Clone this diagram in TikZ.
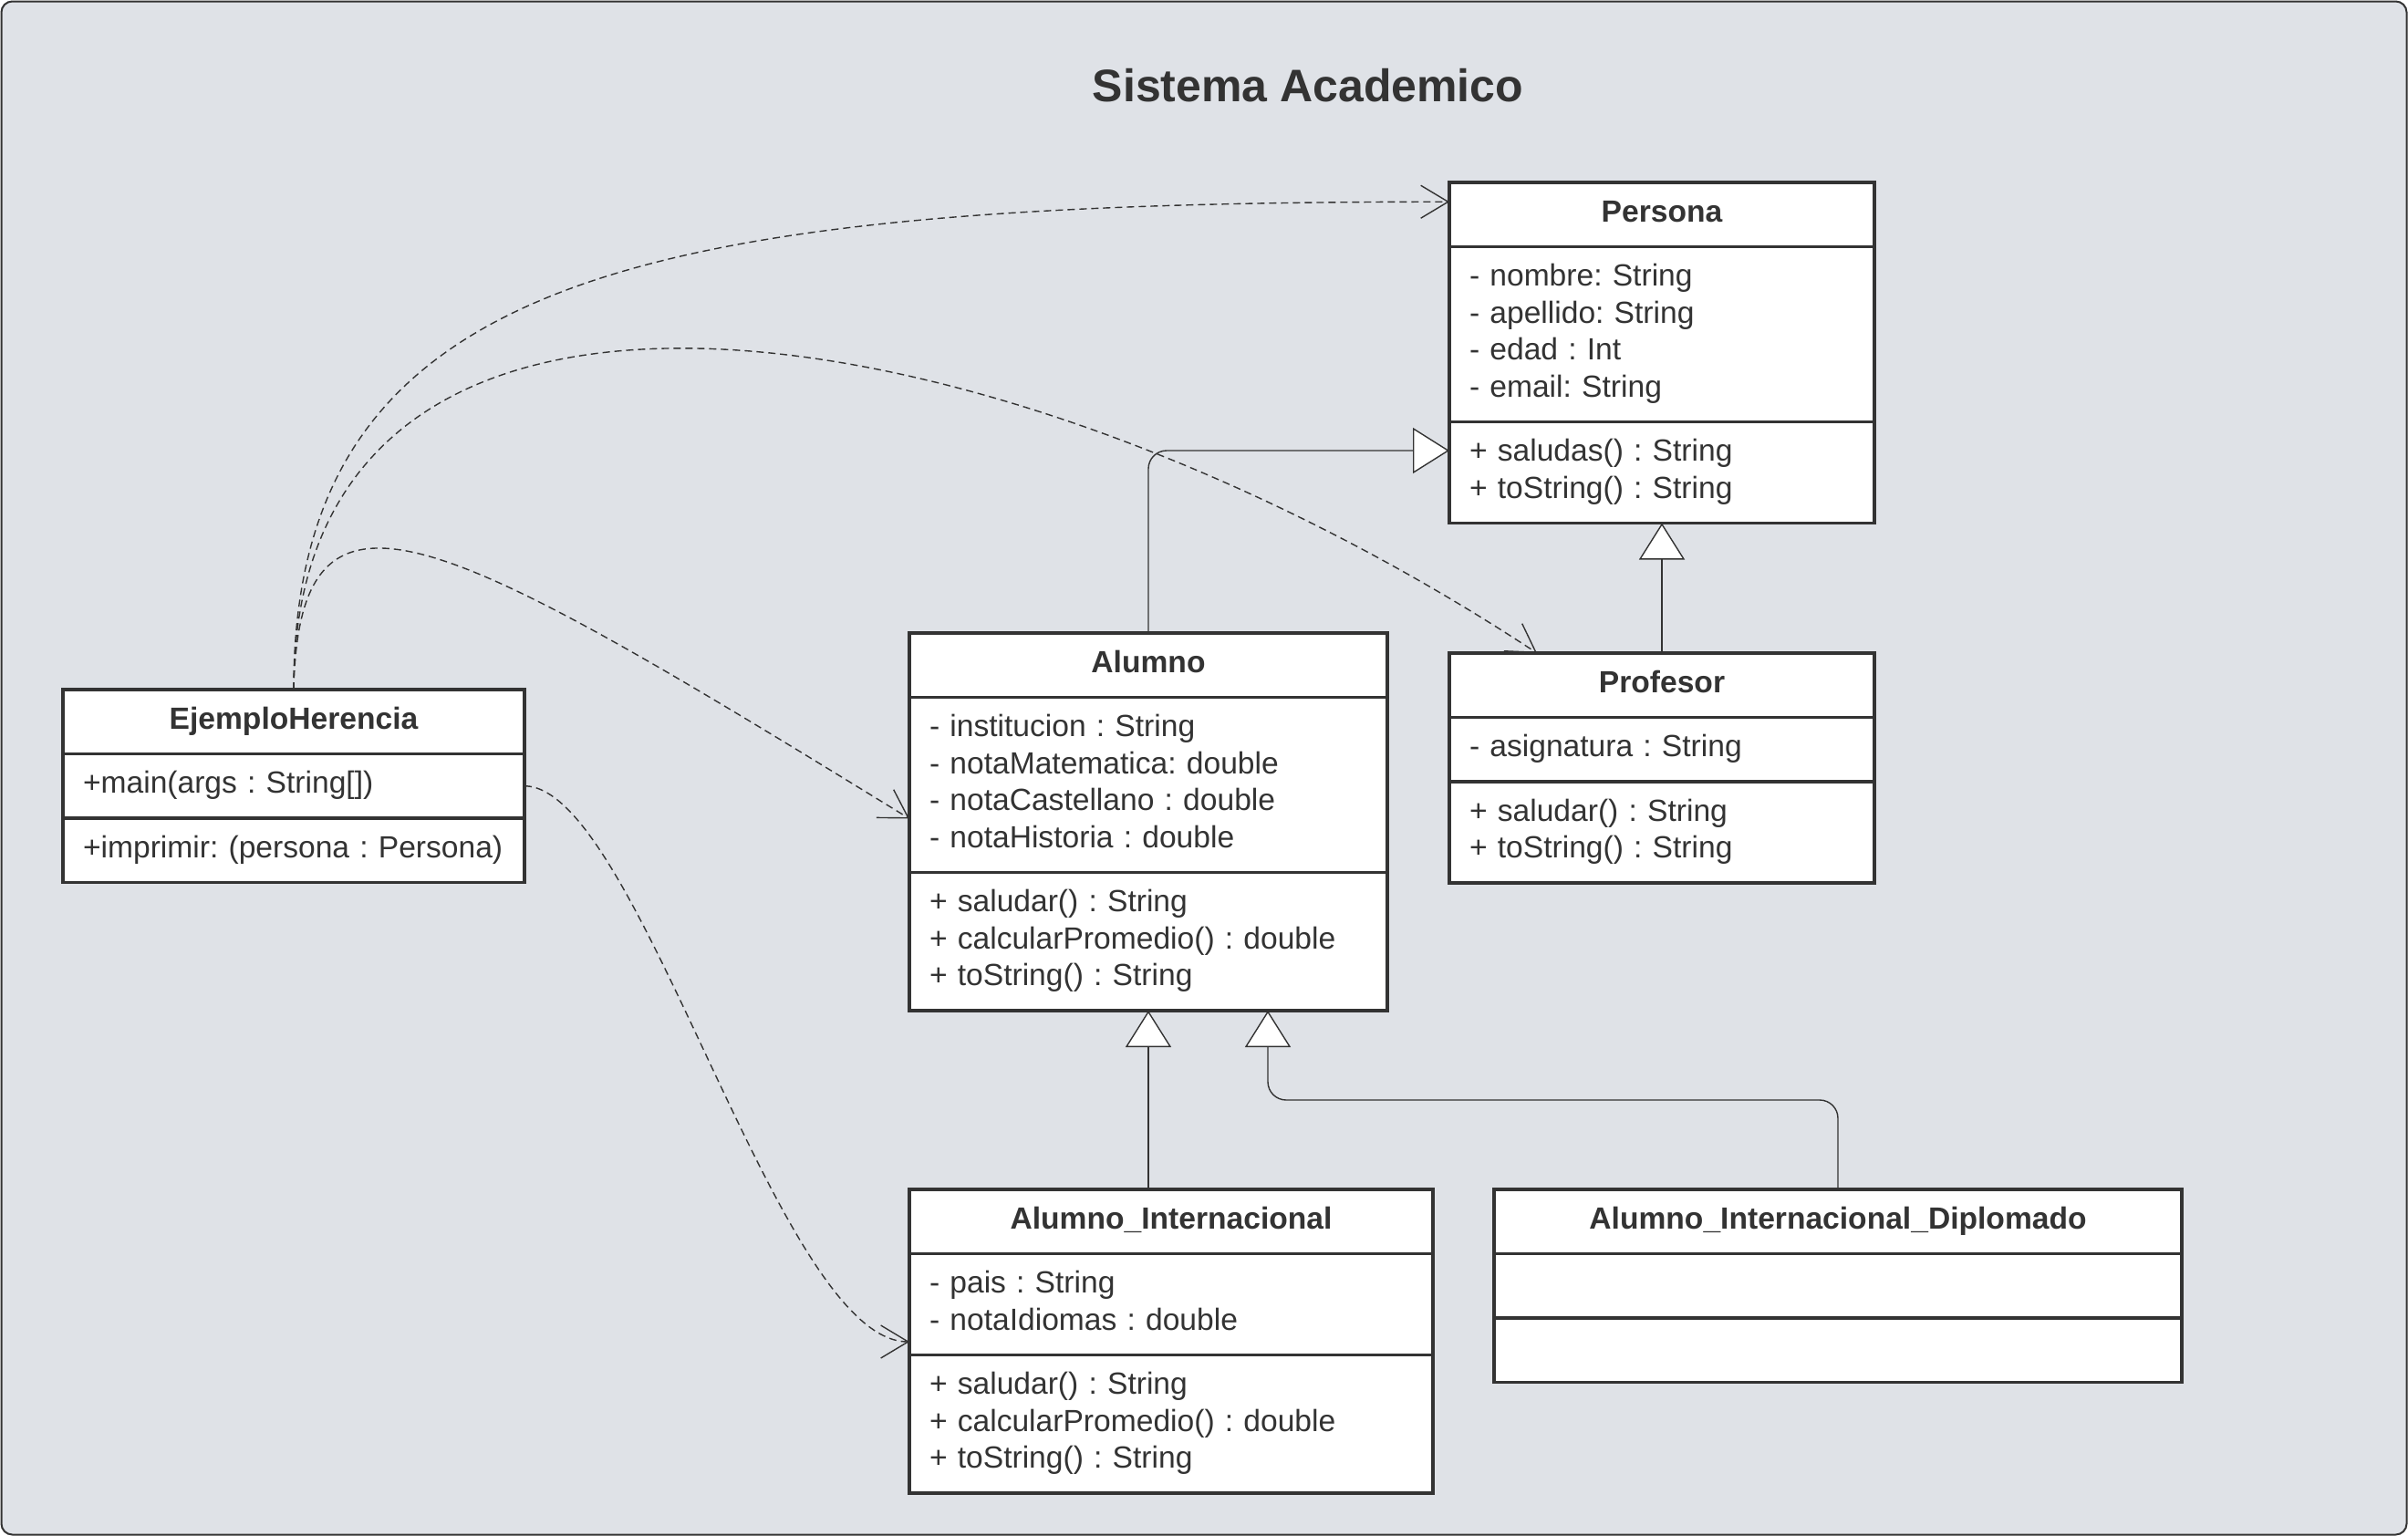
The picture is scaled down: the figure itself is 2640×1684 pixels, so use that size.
\documentclass[tikz,border=0pt]{standalone}
\usepackage{fontspec}
\setmainfont{Liberation Sans}
\usetikzlibrary{positioning, arrows.meta}
\frenchspacing

\definecolor{umlline}{HTML}{333333}
\definecolor{umlbg}{HTML}{DFE2E7}

\begin{document}
\begin{tikzpicture}[x=1pt, y=-1pt,
    every node/.style={font=\fontsize{33.6}{40.5}\selectfont, text=umlline},
    classhead/.style={draw=umlline, line width=3.5pt, fill=white, outer sep=0pt,
        inner xsep=22pt, inner ysep=15pt, align=center,
        font=\fontsize{33.6}{40.5}\selectfont\bfseries,
        execute at begin node=\strut, execute at end node=\strut},
    classpart/.style={classhead, align=left, font=\fontsize{33.6}{40.5}\selectfont},
    gen/.style={draw=umlline, line width=1.4pt, -{Triangle[fill=white, length=40pt, width=50pt]}},
    dep/.style={draw=umlline, line width=1.4pt, dash pattern=on 8pt off 5pt,
        -{Straight Barb[length=30pt, width=36pt]}}]

    \useasboundingbox (0,0) rectangle (2640,1684);

    % Background frame
    \draw[rounded corners=12pt, fill=umlbg, draw=umlline, line width=2pt] (1.5,1.5) rectangle (2638.5,1682.5);

    % Title
    \node[font=\fontsize{50}{60}\selectfont\bfseries, anchor=base] (titulo) at (1434,111) {Sistema Academico};

    % Persona class
    \node[classhead, text width=422pt, anchor=north west] (persona-h) at (1589,200) {Persona};
    \node[classpart, text width=422pt, below=0pt of persona-h] (persona-a) {- nombre: String\\- apellido: String\\- edad : Int\\- email: String};
    \node[classpart, text width=422pt, below=0pt of persona-a] (persona-m) {+ saludas() : String\\+ toString() : String};

    % Profesor class
    \node[classhead, text width=422pt, anchor=north west] (profesor-h) at (1589,716) {Profesor};
    \node[classpart, text width=422pt, below=0pt of profesor-h] (profesor-a) {- asignatura : String};
    \node[classpart, text width=422pt, below=0pt of profesor-a] (profesor-m) {+ saludar() : String\\+ toString() : String};

    % Alumno class
    \node[classhead, text width=480pt, anchor=north west] (alumno-h) at (997,694) {Alumno};
    \node[classpart, text width=480pt, below=0pt of alumno-h] (alumno-a) {- institucion : String\\- notaMatematica: double\\- notaCastellano : double\\- notaHistoria : double};
    \node[classpart, text width=480pt, below=0pt of alumno-a] (alumno-m) {+ saludar() : String\\+ calcularPromedio() : double\\+ toString() : String};

    % EjemploHerencia class
    \node[classhead, text width=462pt, anchor=north west] (ejemplo-h) at (69,756) {EjemploHerencia};
    \node[classpart, text width=462pt, below=0pt of ejemplo-h] (ejemplo-a) {+main(args : String[])};
    \node[classpart, text width=462pt, below=0pt of ejemplo-a] (ejemplo-m) {+imprimir: (persona : Persona)};

    % Alumno_Internacional class
    \node[classhead, text width=530pt, anchor=north west] (inter-h) at (997,1304) {Alumno\_Internacional};
    \node[classpart, text width=530pt, below=0pt of inter-h] (inter-a) {- pais : String\\- notaIdiomas : double};
    \node[classpart, text width=530pt, below=0pt of inter-a] (inter-m) {+ saludar() : String\\+ calcularPromedio() : double\\+ toString() : String};

    % Alumno_Internacional_Diplomado class (empty parts)
    \node[classhead, text width=710pt, anchor=north west] (diplo-h) at (1638,1304) {Alumno\_Internacional\_Diplomado};
    \node[classpart, text width=710pt, below=0pt of diplo-h] (diplo-a) {};
    \node[classpart, text width=710pt, below=0pt of diplo-a] (diplo-m) {};

    % Inheritance arrows
    \draw[gen, rounded corners=20pt] (alumno-h.north) |- ([yshift=24pt]persona-m.west);
    \draw[gen] (profesor-h.north) -- (persona-m.south);
    \draw[gen] (inter-h.north -| alumno-m.south) -- (alumno-m.south);
    \draw[gen, rounded corners=20pt] (diplo-h.north) -- ++(0,-98) -| ([xshift=131pt]alumno-m.south);

    % Dependencies of EjemploHerencia
    \draw[dep] (ejemplo-h.north) .. controls +(0,-456) and +(-889,0) .. ([yshift=14pt]persona-h.west);
    \draw[dep] (ejemplo-h.north) .. controls +(0,-556) and +(-585,-386) .. ([xshift=-137pt]profesor-h.north);
    \draw[dep] (ejemplo-h.north) .. controls +(6,-262) and +(-517,-318) .. ([yshift=-37pt]alumno-a.west);
    \draw[dep] (ejemplo-a.east) .. controls +(125,0) and +(-144,0) .. ([yshift=-41pt]inter-a.west);
\end{tikzpicture}
\end{document}
